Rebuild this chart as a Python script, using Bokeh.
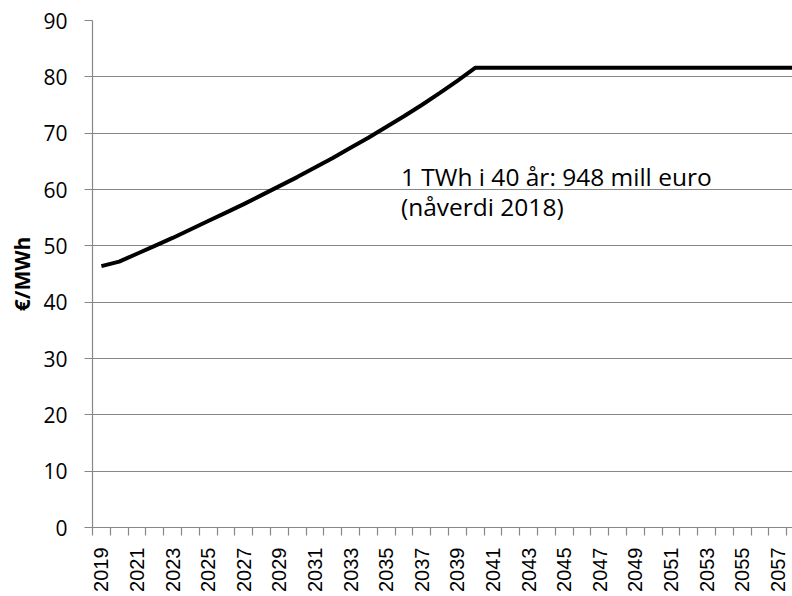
import numpy as np
from bokeh.plotting import figure
from bokeh.models import Range1d, FixedTicker, Label
from bokeh.embed import file_html
from bokeh.resources import INLINE

# ---- data ----
years = [2019, 2020, 2021, 2022, 2023, 2024, 2025, 2026, 2027, 2028,
         2029, 2030, 2031, 2032, 2033, 2034, 2035, 2036, 2037, 2038,
         2039, 2040, 2041, 2042, 2043, 2044, 2045, 2046, 2047, 2048,
         2049, 2050, 2051, 2052, 2053, 2054, 2055, 2056, 2057, 2058]
prices = [46.4, 47.2, 48.6, 50.0, 51.4, 52.9, 54.4, 55.9, 57.4, 59.0,
          60.6, 62.2, 63.9, 65.6, 67.4, 69.2, 71.1, 73.0, 75.0, 77.1,
          79.3, 81.6, 81.6, 81.6, 81.6, 81.6, 81.6, 81.6, 81.6, 81.6,
          81.6, 81.6, 81.6, 81.6, 81.6, 81.6, 81.6, 81.6, 81.6, 81.6]
y_ticks = [0, 10, 20, 30, 40, 50, 60, 70, 80, 90]
x_label_years = [2019, 2021, 2023, 2025, 2027, 2029, 2031, 2033, 2035, 2037,
                 2039, 2041, 2043, 2045, 2047, 2049, 2051, 2053, 2055, 2057]
y_title = "€/MWh"
note_line1 = "1 TWh i 40 år: 948 mill euro"
note_line2 = "(nåverdi 2018)"

GRID = "#878787"

p = figure(width=792, height=596,
           x_range=Range1d(2018.5, 2057.83), y_range=Range1d(0, 90),
           output_backend="svg", toolbar_location=None,
           min_border_left=92, min_border_right=0,
           min_border_top=20, min_border_bottom=69)
p.outline_line_color = None
p.background_fill_color = "white"
p.border_fill_color = "white"

# x axis: labels at every other year, tick marks at category boundaries
boundaries = [y - 0.5 for y in years] + [years[-1] + 0.5]
p.xaxis.ticker = FixedTicker(ticks=x_label_years, minor_ticks=boundaries)
p.xaxis.major_label_overrides = {y: str(y) for y in x_label_years}
p.xaxis.major_tick_line_color = None
p.xaxis.major_tick_out = 0
p.xaxis.major_tick_in = 0
p.xaxis.minor_tick_out = 8
p.xaxis.minor_tick_in = 0
p.xaxis.minor_tick_line_color = GRID
p.xaxis.minor_tick_line_width = 1.2
p.xaxis.axis_line_color = GRID
p.xaxis.axis_line_width = 1.2
p.xaxis.major_label_orientation = np.pi / 2
p.xaxis.major_label_standoff = 12
p.xaxis.major_label_text_font = "Liberation Sans"
p.xaxis.major_label_text_font_size = "20px"
p.xaxis.major_label_text_color = "black"
p.xgrid.visible = False

# y axis
p.yaxis.ticker = FixedTicker(ticks=y_ticks)
p.yaxis.major_tick_out = 8
p.yaxis.major_tick_in = 0
p.yaxis.minor_tick_line_color = None
p.yaxis.major_tick_line_color = GRID
p.yaxis.major_tick_line_width = 1.2
p.yaxis.axis_line_color = GRID
p.yaxis.axis_line_width = 1.2
p.yaxis.major_label_standoff = 17
p.yaxis.major_label_text_font = "Open Sans"
p.yaxis.major_label_text_font_size = "21px"
p.yaxis.major_label_text_color = "black"
p.yaxis.axis_label = y_title
p.yaxis.axis_label_text_font = "Open Sans"
p.yaxis.axis_label_text_font_style = "bold"
p.yaxis.axis_label_text_font_size = "21px"
p.yaxis.axis_label_text_color = "black"
p.yaxis.axis_label_standoff = 4
p.ygrid.grid_line_color = GRID
p.ygrid.grid_line_width = 1.2

p.line(years, prices, line_width=4, line_color="black")

p.add_layout(Label(x=2035.83, y=62.3, text=note_line1, text_font="Open Sans",
                   text_font_size="24.5px", text_color="black",
                   text_baseline="alphabetic"))
p.add_layout(Label(x=2035.83, y=56.9, text=note_line2, text_font="Open Sans",
                   text_font_size="24.5px", text_color="black",
                   text_baseline="alphabetic"))

open("out.html", "w").write(file_html(p, INLINE))
